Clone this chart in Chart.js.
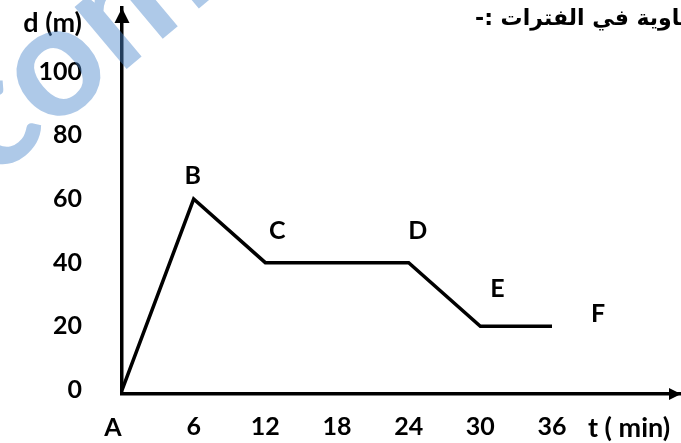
<!DOCTYPE html>
<html>
<head>
<meta charset="utf-8">
<script src="https://cdn.jsdelivr.net/npm/chart.js@4.4.1/dist/chart.umd.min.js"></script>
<style>
html, body { margin: 0; padding: 0; background: #fff; overflow: hidden; }
canvas { display: block; }
</style>
</head>
<body>
<canvas id="graph" width="681" height="443"></canvas>
<script>
// Distance-time graph of a trip: A -> B -> C -> D -> E -> F
const times = [0, 6, 12, 24, 30, 36];          // t (min)
const distances = [0, 60, 40, 40, 20, 20];     // d (m)
const pointNames = ['A', 'B', 'C', 'D', 'E', 'F'];
const timeTicks = [6, 12, 18, 24, 30, 36];
const distanceTicks = [0, 20, 40, 60, 80, 100];

const LATIN = 'Lato, "Open Sans", sans-serif';

// offset (px) of each point letter from its vertex
const nameOffsets = [[-9, 37], [-1, -24], [12, -33], [9, -33], [17, -38], [46, -13]];

const decorations = {
  id: 'decorations',
  afterDatasetsDraw(chart) {
    const { ctx, chartArea: a, scales: { x, y } } = chart;
    ctx.save();
    ctx.fillStyle = '#000';

    // arrow on the time axis
    ctx.beginPath();
    ctx.moveTo(a.right, a.bottom);
    ctx.lineTo(a.right - 12, a.bottom - 6);
    ctx.lineTo(a.right - 12, a.bottom + 6);
    ctx.closePath();
    ctx.fill();

    // arrow on the distance axis
    ctx.beginPath();
    ctx.moveTo(a.left, a.top);
    ctx.lineTo(a.left - 7.5, a.top + 15);
    ctx.lineTo(a.left + 7.5, a.top + 15);
    ctx.closePath();
    ctx.fill();

    // point letters
    ctx.font = 'bold 25px ' + LATIN;
    ctx.textAlign = 'center';
    ctx.textBaseline = 'alphabetic';
    pointNames.forEach((name, i) => {
      const px = x.getPixelForValue(times[i]) + nameOffsets[i][0];
      const py = y.getPixelForValue(distances[i]) + nameOffsets[i][1];
      ctx.fillText(name, px, py + 9);
    });

    // axis titles
    ctx.font = 'bold 27px ' + LATIN;
    ctx.textAlign = 'right';
    ctx.fillText('d (m)', 82, 32);
    ctx.textAlign = 'left';
    ctx.fillText('t ( min)', 588, 436.5);

    // heading line of the exercise
    ctx.font = 'bold 22px "DejaVu Sans", sans-serif';
    ctx.direction = 'rtl';
    ctx.textAlign = 'left';
    ctx.fillText('متساوية في الفترات :-', 475, 25);
    ctx.restore();
  },
  afterDraw(chart) {
    // translucent site stamp across the upper-left corner
    const ctx = chart.ctx;
    const size = 158;
    ctx.save();
    ctx.font = '700 ' + size + 'px Lato, sans-serif';
    ctx.fillStyle = 'rgba(75, 135, 205, 0.45)';
    ctx.translate(60, 73);
    ctx.rotate(-40 * Math.PI / 180);
    const wc = ctx.measureText('c').width;
    const wo = ctx.measureText('o').width;
    ctx.textAlign = 'left';
    ctx.textBaseline = 'alphabetic';
    ctx.fillText('com', -(wc + wo / 2), 0.506 * size / 2);
    ctx.restore();
  }
};

new Chart(document.getElementById('graph'), {
  type: 'line',
  data: {
    datasets: [{
      data: times.map((t, i) => ({ x: t, y: distances[i] })),
      borderColor: '#000',
      borderWidth: 3.5,
      borderJoinStyle: 'miter',
      pointRadius: 0,
      tension: 0,
      clip: false
    }]
  },
  options: {
    responsive: false,
    animation: false,
    devicePixelRatio: 1,
    layout: { padding: { top: 8, left: 0, right: 0, bottom: 0 } },
    plugins: { legend: { display: false }, tooltip: { enabled: false } },
    scales: {
      x: {
        type: 'linear',
        min: 0,
        max: 46.8,
        grid: { display: false, drawTicks: false },
        border: { display: true, color: '#000', width: 3.5 },
        afterBuildTicks: s => { s.ticks = timeTicks.map(v => ({ value: v })); },
        afterFit: s => { s.height = 49; s.paddingLeft = 0; s.paddingRight = 0; },
        ticks: {
          color: '#000',
          font: { family: LATIN, size: 25, weight: 'bold' },
          padding: 18,
          maxRotation: 0,
          autoSkip: false
        }
      },
      y: {
        type: 'linear',
        min: -1.25,
        max: 120,
        grid: { display: false, drawTicks: false },
        border: { display: true, color: '#000', width: 3.5 },
        afterBuildTicks: s => { s.ticks = distanceTicks.map(v => ({ value: v })); },
        afterFit: s => { s.width = 122; s.paddingTop = 0; s.paddingBottom = 0; },
        ticks: {
          color: '#000',
          font: { family: LATIN, size: 25, weight: 'bold' },
          padding: 40,
          autoSkip: false
        }
      }
    }
  },
  plugins: [decorations]
});
</script>
</body>
</html>
